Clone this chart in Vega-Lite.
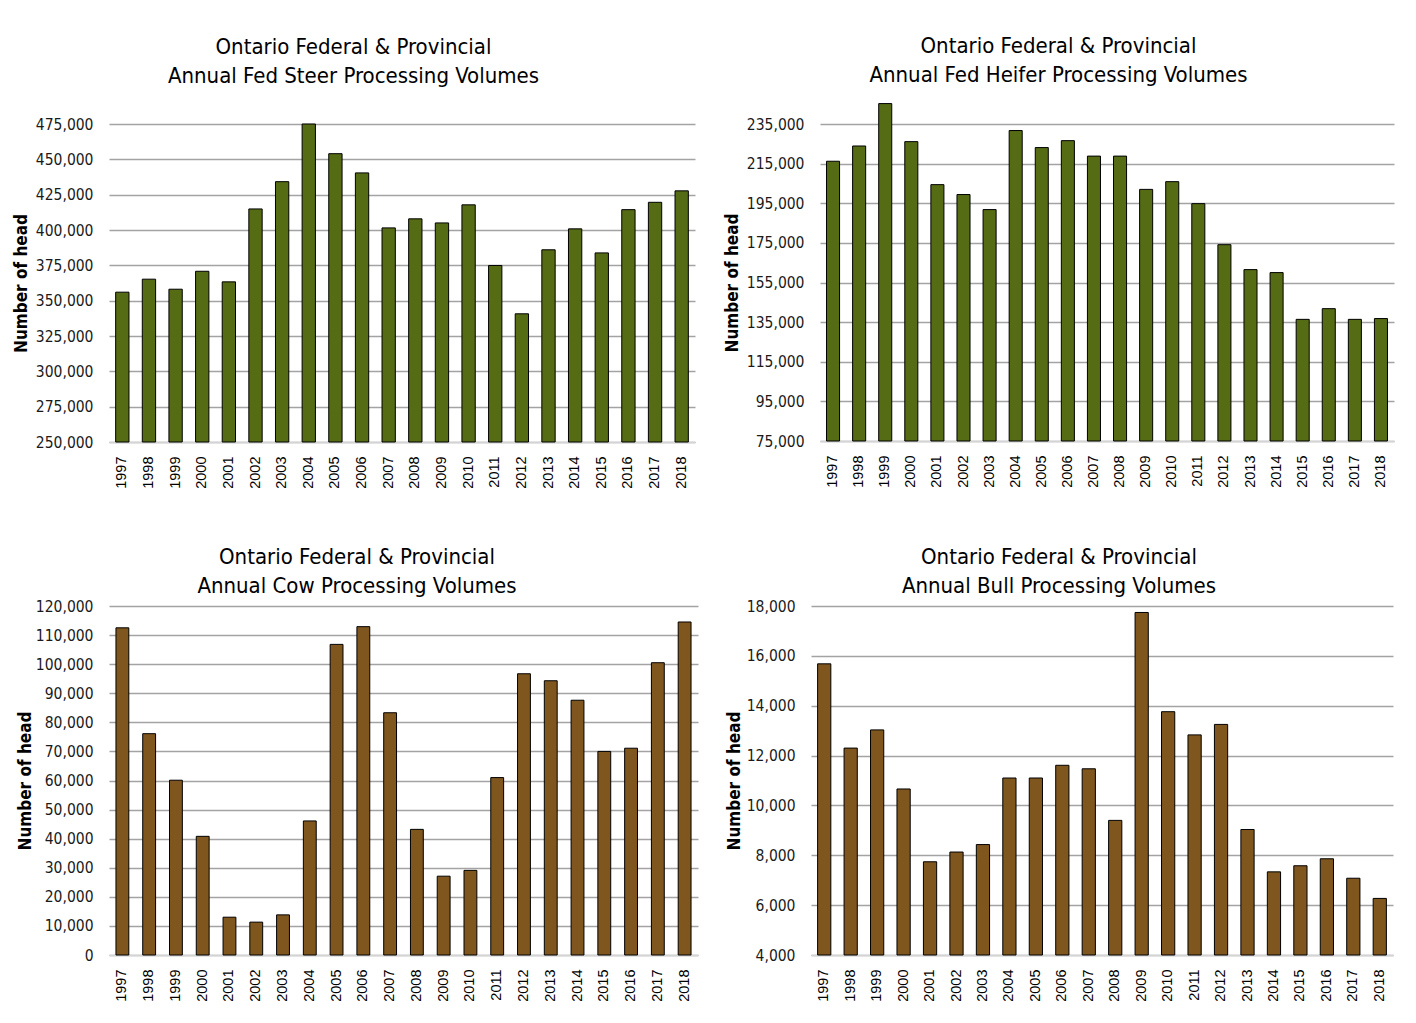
{
  "$schema": "https://vega.github.io/schema/vega-lite/v6.json",
  "padding": {"left": 12, "top": 35, "right": 5, "bottom": 5},
  "background": "white",
  "datasets": {
    "steer": [
      {"year": "1997", "head": 356000}, {"year": "1998", "head": 365200}, {"year": "1999", "head": 358100},
      {"year": "2000", "head": 370800}, {"year": "2001", "head": 363300}, {"year": "2002", "head": 414900},
      {"year": "2003", "head": 434200}, {"year": "2004", "head": 475000}, {"year": "2005", "head": 454000},
      {"year": "2006", "head": 440400}, {"year": "2007", "head": 401500}, {"year": "2008", "head": 407900},
      {"year": "2009", "head": 405000}, {"year": "2010", "head": 417800}, {"year": "2011", "head": 374900},
      {"year": "2012", "head": 340700}, {"year": "2013", "head": 386000}, {"year": "2014", "head": 400800},
      {"year": "2015", "head": 383800}, {"year": "2016", "head": 414400}, {"year": "2017", "head": 419600},
      {"year": "2018", "head": 427700}
    ],
    "heifer": [
      {"year": "1997", "head": 216200}, {"year": "1998", "head": 223900}, {"year": "1999", "head": 245300},
      {"year": "2000", "head": 226100}, {"year": "2001", "head": 204400}, {"year": "2002", "head": 199400},
      {"year": "2003", "head": 191800}, {"year": "2004", "head": 231700}, {"year": "2005", "head": 223100},
      {"year": "2006", "head": 226600}, {"year": "2007", "head": 218800}, {"year": "2008", "head": 218800},
      {"year": "2009", "head": 202000}, {"year": "2010", "head": 205900}, {"year": "2011", "head": 194800},
      {"year": "2012", "head": 174100}, {"year": "2013", "head": 161500}, {"year": "2014", "head": 160000},
      {"year": "2015", "head": 136400}, {"year": "2016", "head": 141800}, {"year": "2017", "head": 136400},
      {"year": "2018", "head": 136800}
    ],
    "cow": [
      {"year": "1997", "head": 112500}, {"year": "1998", "head": 76100}, {"year": "1999", "head": 60100},
      {"year": "2000", "head": 40800}, {"year": "2001", "head": 13000}, {"year": "2002", "head": 11300},
      {"year": "2003", "head": 13800}, {"year": "2004", "head": 46100}, {"year": "2005", "head": 106800},
      {"year": "2006", "head": 112900}, {"year": "2007", "head": 83300}, {"year": "2008", "head": 43200},
      {"year": "2009", "head": 27100}, {"year": "2010", "head": 29100}, {"year": "2011", "head": 61000},
      {"year": "2012", "head": 96700}, {"year": "2013", "head": 94300}, {"year": "2014", "head": 87600},
      {"year": "2015", "head": 70000}, {"year": "2016", "head": 71100}, {"year": "2017", "head": 100500},
      {"year": "2018", "head": 114500}
    ],
    "bull": [
      {"year": "1997", "head": 15680}, {"year": "1998", "head": 12300}, {"year": "1999", "head": 13030},
      {"year": "2000", "head": 10660}, {"year": "2001", "head": 7740}, {"year": "2002", "head": 8130},
      {"year": "2003", "head": 8430}, {"year": "2004", "head": 11100}, {"year": "2005", "head": 11100},
      {"year": "2006", "head": 11610}, {"year": "2007", "head": 11470}, {"year": "2008", "head": 9400},
      {"year": "2009", "head": 17740}, {"year": "2010", "head": 13760}, {"year": "2011", "head": 12830},
      {"year": "2012", "head": 13250}, {"year": "2013", "head": 9035}, {"year": "2014", "head": 7335},
      {"year": "2015", "head": 7580}, {"year": "2016", "head": 7860}, {"year": "2017", "head": 7080},
      {"year": "2018", "head": 6270}
    ]
  },
  "config": {
    "view": {"stroke": null},
    "font": "Liberation Sans Narrow, DejaVu Sans Condensed, Lato",
    "title": {
      "font": "Liberation Sans Narrow, DejaVu Sans Condensed, Lato",
      "fontSize": 22,
      "fontWeight": "normal",
      "lineHeight": 29,
      "color": "#000000",
      "anchor": "middle",
      "frame": "bounds"
    },
    "axisY": {
      "domain": false,
      "ticks": false,
      "grid": true,
      "gridColor": "#a3a3a3",
      "gridWidth": 1.3,
      "labelFont": "Liberation Sans Narrow, DejaVu Sans Condensed, Lato",
      "labelFontSize": 15.5,
      "labelColor": "#1a1a1a",
      "labelPadding": 16,
      "titleFont": "Liberation Sans Narrow, DejaVu Sans Condensed, Lato",
      "titleFontSize": 17,
      "titleFontWeight": "bold",
      "titleColor": "#000000",
      "titlePadding": 2,
      "format": ",.0f"
    },
    "axisX": {
      "domain": true,
      "domainColor": "#d4d4d4",
      "domainWidth": 1.5,
      "ticks": false,
      "grid": false,
      "labelAngle": 270,
      "labelFont": "Liberation Sans, Arial",
      "labelFontSize": 14.5,
      "labelColor": "#000000",
      "labelPadding": 14,
      "title": null
    }
  },
  "spacing": 57,
  "vconcat": [
    {
      "spacing": 28,
      "hconcat": [
        {
          "width": 586,
          "height": 318,
          "title": {"text": ["Ontario Federal & Provincial", "Annual Fed Steer Processing Volumes"], "offset": 29},
          "data": {"name": "steer"},
          "mark": {"type": "bar", "fill": "#556b14", "stroke": "#000000", "strokeWidth": 1},
          "encoding": {
            "x": {"field": "year", "type": "ordinal", "scale": {"paddingInner": 0.5, "paddingOuter": 0.25}},
            "y": {
              "field": "head", "type": "quantitative",
              "scale": {"domain": [250000, 475000], "nice": false, "zero": false},
              "axis": {"title": "Number of head", "values": [250000, 275000, 300000, 325000, 350000, 375000, 400000, 425000, 450000, 475000], "minExtent": 77, "maxExtent": 77}
            },
            "y2": {"datum": 250000}
          }
        },
        {
          "width": 574,
          "height": 317,
          "title": {"text": ["Ontario Federal & Provincial", "Annual Fed Heifer Processing Volumes"], "offset": 16},
          "data": {"name": "heifer"},
          "mark": {"type": "bar", "fill": "#556b14", "stroke": "#000000", "strokeWidth": 1},
          "encoding": {
            "x": {"field": "year", "type": "ordinal", "scale": {"paddingInner": 0.5, "paddingOuter": 0.25}},
            "y": {
              "field": "head", "type": "quantitative",
              "scale": {"domain": [75000, 235000], "nice": false, "zero": false},
              "axis": {"title": "Number of head", "values": [75000, 95000, 115000, 135000, 155000, 175000, 195000, 215000, 235000], "minExtent": 77, "maxExtent": 77}
            },
            "y2": {"datum": 75000}
          }
        }
      ]
    },
    {
      "spacing": 27,
      "hconcat": [
        {
          "width": 589,
          "height": 349,
          "title": {"text": ["Ontario Federal & Provincial", "Annual Cow Processing Volumes"], "offset": 1},
          "data": {"name": "cow"},
          "mark": {"type": "bar", "fill": "#7f561e", "stroke": "#000000", "strokeWidth": 1},
          "encoding": {
            "x": {"field": "year", "type": "ordinal", "scale": {"paddingInner": 0.52, "paddingOuter": 0.26}},
            "y": {
              "field": "head", "type": "quantitative",
              "scale": {"domain": [0, 120000], "nice": false},
              "axis": {"title": "Number of head", "values": [0, 10000, 20000, 30000, 40000, 50000, 60000, 70000, 80000, 90000, 100000, 110000, 120000], "minExtent": 73, "maxExtent": 73}
            }
          }
        },
        {
          "width": 582,
          "height": 349,
          "title": {"text": ["Ontario Federal & Provincial", "Annual Bull Processing Volumes"], "offset": 1},
          "data": {"name": "bull"},
          "mark": {"type": "bar", "fill": "#7f561e", "stroke": "#000000", "strokeWidth": 1},
          "encoding": {
            "x": {"field": "year", "type": "ordinal", "scale": {"paddingInner": 0.5, "paddingOuter": 0.25}},
            "y": {
              "field": "head", "type": "quantitative",
              "scale": {"domain": [4000, 18000], "nice": false, "zero": false},
              "axis": {"title": "Number of head", "values": [4000, 6000, 8000, 10000, 12000, 14000, 16000, 18000], "minExtent": 66, "maxExtent": 66}
            },
            "y2": {"datum": 4000}
          }
        }
      ]
    }
  ]
}
